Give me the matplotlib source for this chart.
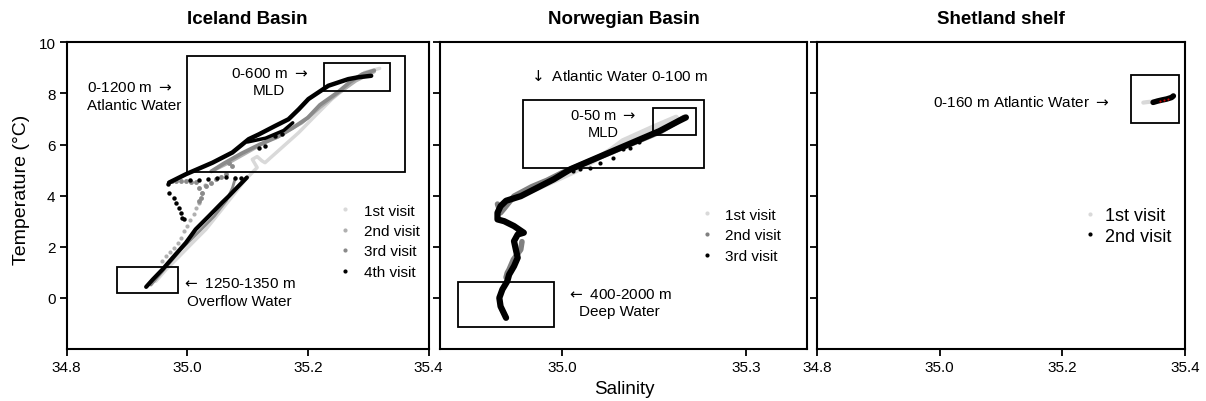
import matplotlib
matplotlib.use("Agg")
import matplotlib.pyplot as plt
from matplotlib.lines import Line2D
from matplotlib.patches import Rectangle

plt.rcParams['font.family'] = ['Liberation Sans', 'DejaVu Sans']
plt.rcParams['mathtext.fontset'] = 'dejavusans'

# ---------------- data ----------------
# colours of visits
c_v1 = '#d9d9d9'
c_v2 = '#b0b0b0'
c_v3 = '#8a8a8a'
c_v4 = '#000000'

titles = ['Iceland Basin', 'Norwegian Basin', 'Shetland shelf']

# Iceland Basin ----------------------------------------------------
ice_v1_s = [34.948, 34.965, 34.987, 35.009, 35.031, 35.053, 35.075, 35.097, 35.116,
            35.108, 35.116, 35.124, 35.129, 35.157, 35.185, 35.212, 35.240, 35.267, 35.294, 35.319]
ice_v1_t = [0.65, 1.11, 1.63, 2.16, 2.68, 3.33, 3.98, 4.64, 5.10,
            5.42, 5.53, 5.36, 5.29, 5.88, 6.47, 7.12, 7.78, 8.30, 8.82, 8.98]

ice_v2_dots_s = [34.958, 34.965, 34.972, 34.979, 34.985, 34.990, 34.995, 35.000, 35.005,
                 35.011, 35.015, 35.020, 35.025, 35.030]
ice_v2_dots_t = [1.45, 1.65, 1.80, 1.96, 2.15, 2.35, 2.60, 2.81, 3.05,
                 3.27, 3.50, 3.73, 4.12, 4.40]
ice_v2_s = [35.040, 35.070, 35.100, 35.130, 35.160, 35.190, 35.220, 35.250, 35.280, 35.310]
ice_v2_t = [4.95, 5.30, 5.70, 6.10, 6.45, 6.85, 7.45, 8.00, 8.50, 8.85]

ice_v3_deep_s = [34.940, 34.965, 34.990, 35.020, 35.045, 35.065, 35.075, 35.080]
ice_v3_deep_t = [0.50, 1.20, 1.90, 2.60, 3.20, 3.80, 4.30, 4.70]
ice_v3_dots_s = [34.975, 34.981, 34.990, 34.998, 35.006, 35.014, 35.020, 35.025, 35.023, 35.020,
                 35.031, 35.040, 35.047, 35.056, 35.064, 35.075, 35.069]
ice_v3_dots_t = [4.58, 4.57, 4.57, 4.57, 4.55, 4.53, 4.31, 4.12, 3.92, 3.79,
                 4.38, 4.50, 4.64, 4.74, 4.84, 5.16, 5.29]
ice_v3_s = [35.040, 35.060, 35.090, 35.120, 35.150, 35.175, 35.200, 35.220, 35.250, 35.270, 35.290, 35.310]
ice_v3_t = [4.95, 5.25, 5.65, 6.00, 6.30, 6.65, 7.05, 7.55, 8.05, 8.45, 8.75, 8.90]

ice_v4_deep_s = [34.932, 34.943, 34.959, 34.976, 34.998, 35.014, 35.036, 35.058, 35.069, 35.080, 35.099]
ice_v4_deep_t = [0.43, 0.72, 1.11, 1.57, 2.16, 2.68, 3.20, 3.73, 3.98, 4.25, 4.71]
ice_v4_s = [34.970, 34.998, 35.042, 35.075, 35.102, 35.119, 35.146, 35.168, 35.185, 35.201,
            35.234, 35.267, 35.283, 35.305]
ice_v4_t = [4.51, 4.84, 5.29, 5.69, 6.21, 6.40, 6.73, 6.99, 7.38, 7.78,
            8.30, 8.56, 8.63, 8.69]
ice_v4_loop_s = [35.100, 35.130, 35.160, 35.175]
ice_v4_loop_t = [6.10, 6.25, 6.55, 6.85]
ice_v4_dots_s = [34.968, 34.970, 34.979, 34.981, 34.987, 34.990, 34.992, 34.995,
                 35.005, 35.020, 35.035, 35.050, 35.065, 35.080, 35.090,
                 35.119, 35.129, 35.146, 35.157]
ice_v4_dots_t = [4.44, 4.12, 3.92, 3.73, 3.53, 3.33, 3.14, 3.07,
                 4.62, 4.60, 4.65, 4.70, 4.74, 4.70, 4.68,
                 5.88, 5.94, 6.34, 6.40]

# Norwegian Basin --------------------------------------------------
nor_v1_s = [34.910, 34.930, 34.960, 34.990, 35.020, 35.050, 35.080, 35.099, 35.148, 35.186]
nor_v1_t = [3.75, 4.00, 4.30, 4.62, 4.95, 5.35, 5.80, 6.14, 6.67, 7.06]

nor_v2_s = [34.894, 34.899, 34.905, 34.921, 34.950, 34.975, 35.000, 35.040, 35.080, 35.120, 35.160, 35.199]
nor_v2_t = [3.67, 3.33, 3.50, 3.98, 4.35, 4.60, 4.90, 5.30, 5.70, 6.10, 6.50, 7.06]
nor_v2_deep_s = [34.908, 34.910, 34.913, 34.920, 34.932, 34.934]
nor_v2_deep_t = [0.80, 0.98, 1.11, 1.50, 1.89, 2.20]

nor_v3_s = [34.908, 34.899, 34.897, 34.902, 34.910, 34.913, 34.921, 34.927, 34.924, 34.921,
            34.927, 34.937, 34.921, 34.905, 34.894, 34.894, 34.899, 34.908, 34.932, 34.959,
            34.986, 35.013, 35.045, 35.083, 35.121, 35.159, 35.191, 35.202]
nor_v3_t = [-0.78, -0.33, 0.00, 0.33, 0.65, 0.91, 1.24, 1.57, 1.89, 2.22,
            2.48, 2.55, 2.81, 3.00, 3.07, 3.33, 3.59, 3.80, 3.98, 4.31,
            4.64, 5.03, 5.36, 5.75, 6.14, 6.53, 6.93, 7.06]
nor_v3_dots_s = [35.018, 35.029, 35.045, 35.062, 35.083, 35.099, 35.110, 35.126]
nor_v3_dots_t = [4.97, 5.03, 5.10, 5.29, 5.49, 5.82, 5.88, 6.08]

# Shetland shelf ---------------------------------------------------
she_v1_s = [35.332, 35.338, 35.346, 35.352]
she_v1_t = [7.64, 7.66, 7.68, 7.70]
she_v2_s = [35.348, 35.355, 35.362, 35.370, 35.378, 35.381]
she_v2_t = [7.65, 7.70, 7.74, 7.78, 7.84, 7.90]
she_red_s = [35.360, 35.366, 35.372]
she_red_t = [7.70, 7.74, 7.80]

# boxes (salinity0, salinity1, temp0, temp1)
ice_boxes = [(35.000, 35.361, 4.92, 9.48), (35.226, 35.336, 8.10, 9.18), (34.883, 34.984, 0.20, 1.22)]
nor_boxes = [(34.935, 35.231, 5.07, 7.74), (35.149, 35.219, 6.38, 7.41), (34.829, 34.986, -1.15, 0.61)]
she_boxes = [(35.312, 35.390, 6.84, 8.73)]

ice_legend = ['1st visit', '2nd visit', '3rd visit', '4th visit']
nor_legend = ['1st visit', '2nd visit', '3rd visit']
she_legend = ['1st visit', '2nd visit']

yticks = [0, 2, 4, 6, 8, 10]
ice_xticks = [34.8, 35.0, 35.2, 35.4]
nor_xticks = [35.0, 35.3]
she_xticks = [34.8, 35.0, 35.2, 35.4]

RA = r'$\rightarrow$'
LA = r'$\leftarrow$'
DA = r'$\downarrow$'

# ---------------- figure ----------------
W, H = 1206, 402
fig = plt.figure(figsize=(W / 100, H / 100), dpi=100)

bottom = 1 - 350 / H
height = (350 - 43.3) / H
ax1 = fig.add_axes([66.5 / W, bottom, (428.5 - 66.5) / W, height])
ax2 = fig.add_axes([440 / W, bottom, (807 - 440) / W, height])
ax3 = fig.add_axes([817 / W, bottom, (1185 - 817) / W, height])

for ax, title in zip([ax1, ax2, ax3], titles):
    ax.set_xlim(34.8, 35.4)
    ax.set_ylim(-2, 10)
    for sp in ax.spines.values():
        sp.set_linewidth(1.5)
    ax.tick_params(direction='out', length=5, width=1.3, labelsize=11, pad=3)
    ax.set_yticks(yticks)
    ax.set_title(title, fontsize=13.5, fontweight='bold', pad=14)

ax1.set_xticks(ice_xticks)
ax1.set_xticklabels([f'{v:.1f}' for v in ice_xticks])
ax2.set_xticks(nor_xticks)
ax2.set_xticklabels([f'{v:.1f}' for v in nor_xticks])
ax3.set_xticks(she_xticks)
ax3.set_xticklabels([f'{v:.1f}' for v in she_xticks])
ax2.tick_params(labelleft=False)
ax3.tick_params(labelleft=False)


def boxes(ax, bl):
    for s0, s1, t0, t1 in bl:
        ax.add_patch(Rectangle((s0, t0), s1 - s0, t1 - t0, fill=False, lw=1.3, ec='black', zorder=5))


def line(ax, s, t, c, lw):
    ax.plot(s, t, '-', color=c, lw=lw, solid_capstyle='round', solid_joinstyle='round')


def dots(ax, s, t, c, ms):
    ax.plot(s, t, 'o', color=c, ms=ms, ls='none', mec='none')


# Iceland
line(ax1, ice_v1_s, ice_v1_t, c_v1, 2.5)
line(ax1, ice_v2_s, ice_v2_t, c_v2, 2.5)
dots(ax1, ice_v2_dots_s, ice_v2_dots_t, c_v2, 3)
line(ax1, ice_v3_deep_s, ice_v3_deep_t, c_v3, 2.0)
line(ax1, ice_v3_s, ice_v3_t, c_v3, 2.8)
dots(ax1, ice_v3_dots_s, ice_v3_dots_t, c_v3, 3.5)
line(ax1, ice_v4_deep_s, ice_v4_deep_t, c_v4, 3.0)
line(ax1, ice_v4_s, ice_v4_t, c_v4, 3.2)
line(ax1, ice_v4_loop_s, ice_v4_loop_t, c_v4, 2.5)
dots(ax1, ice_v4_dots_s, ice_v4_dots_t, c_v4, 3.2)
boxes(ax1, ice_boxes)

# Norwegian
line(ax2, nor_v1_s, nor_v1_t, c_v1, 4)
line(ax2, nor_v2_s, nor_v2_t, '#808080', 4)
line(ax2, nor_v2_deep_s, nor_v2_deep_t, '#808080', 4)
line(ax2, nor_v3_s, nor_v3_t, c_v4, 4.5)
dots(ax2, nor_v3_dots_s, nor_v3_dots_t, c_v4, 3)
boxes(ax2, nor_boxes)

# Shetland
line(ax3, she_v1_s, she_v1_t, c_v1, 3)
line(ax3, she_v2_s, she_v2_t, c_v4, 4)
dots(ax3, she_red_s, she_red_t, '#cc0000', 1.5)
boxes(ax3, she_boxes)

# annotations
ann_kw = dict(fontsize=11, linespacing=1.3)
ax1.text(34.834, 7.9, f'0-1200 m {RA}\nAtlantic Water', ha='left', va='center', **ann_kw)
ax1.text(35.136, 8.46, f'0-600 m {RA}\nMLD', ha='center', va='center', multialignment='center', **ann_kw)
ax1.text(35.086, 0.23, f'{LA} 1250-1350 m\nOverflow Water', ha='center', va='center',
         multialignment='center', **ann_kw)

ax2.text(35.092, 8.72, f'{DA} Atlantic Water 0-100 m', ha='center', va='center', **ann_kw)
ax2.text(35.067, 6.82, f'0-50 m {RA}\nMLD', ha='center', va='center', multialignment='center',
         fontsize=10.5, linespacing=1.3)
ax2.text(35.094, -0.17, f'{LA} 400-2000 m\nDeep Water', ha='center', va='center',
         multialignment='center', **ann_kw)

ax3.text(35.1325, 7.69, f'0-160 m Atlantic Water {RA}', ha='center', va='center', **ann_kw)


def legend(ax, labels, colors, x, y, fs, pad, sp):
    handles = [Line2D([], [], marker='o', ls='none', color=c, mec='none', ms=3) for c in colors]
    ax.legend(handles, labels, loc='upper left', bbox_to_anchor=(x, y), frameon=False,
              fontsize=fs, handlelength=1.0, handletextpad=pad, borderpad=0,
              borderaxespad=0, labelspacing=sp)


legend(ax1, ice_legend, [c_v1, c_v2, c_v3, c_v4], 0.749, 0.474, 11, 0.7, 0.42)
legend(ax2, nor_legend, [c_v1, '#808080', c_v4], 0.707, 0.461, 11, 0.7, 0.45)
legend(ax3, she_legend, [c_v1, c_v4], 0.718, 0.463, 13, 0.3, 0.2)

fig.text(22 / W, 1 - 190 / H, 'Temperature (\u00b0C)', rotation=90, ha='center', va='center', fontsize=14)
fig.text(624 / W, 1 - 390 / H, 'Salinity', ha='center', va='center', fontsize=13.5)

fig.savefig('out.png', dpi=100)
